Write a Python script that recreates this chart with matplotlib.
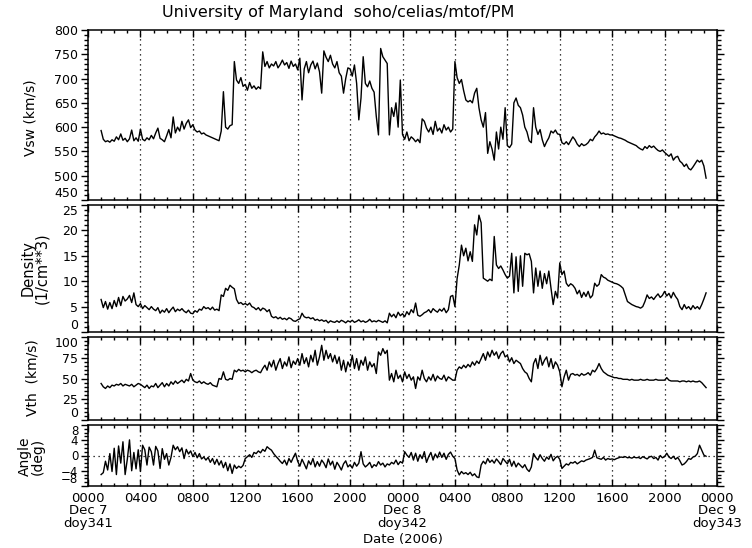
import matplotlib
matplotlib.use("Agg")
import matplotlib.pyplot as plt
import matplotlib.ticker as ticker
import numpy as np

# samples every 10 min, starting 01:00 on Dec 7 (hours since Dec 7 0000)
t_start = 1.0
step = 1.0 / 6.0

vsw = [
    593, 575, 570, 572, 569, 574,   # 01h
    571, 580, 574, 586, 573, 577,   # 02h
    570, 576, 594, 572, 578, 571,   # 03h
    596, 575, 572, 578, 574, 583,   # 04h
    576, 588, 598, 577, 574, 570,   # 05h
    582, 595, 578, 621, 588, 600,   # 06h
    592, 612, 596, 608, 615, 599,   # 07h
    605, 594, 590, 592, 586, 588,   # 08h
    584, 582, 580, 578, 576, 574,   # 09h
    572, 592, 673, 600, 596, 603,   # 10h
    605, 735, 697, 690, 702, 684,   # 11h
    688, 676, 692, 680, 685, 678,   # 12h
    683, 679, 755, 725, 735, 722,   # 13h
    730, 726, 735, 722, 729, 738,   # 14h
    728, 733, 721, 736, 725, 730,   # 15h
    718, 742, 656, 720, 735, 712,   # 16h
    728, 736, 720, 732, 714, 670,   # 17h
    757, 744, 735, 748, 730, 722,   # 18h
    735, 712, 705, 670, 700, 722,   # 19h
    720, 705, 728, 690, 615, 660,   # 20h
    745, 690, 683, 695, 680, 672,   # 21h
    622, 584, 762, 745, 738, 731,   # 22h
    584, 640, 622, 650, 600, 697,   # 23h
    585, 575, 590, 572, 580, 576,   # 24h
    570, 575, 568, 617, 612, 598,   # 25h
    590, 600, 585, 612, 592, 598,   # 26h
    588, 605, 594, 600, 590, 596,   # 27h
    735, 702, 690, 698, 675, 656,   # 28h
    652, 655, 650, 670, 680, 640,   # 29h
    615, 600, 630, 546, 570, 555,   # 30h
    532, 590, 555, 600, 575, 640,   # 31h
    562, 558, 565, 650, 660, 645,   # 32h
    640, 625, 600, 590, 572, 568,   # 33h
    640, 600, 585, 595, 574, 560,   # 34h
    570, 578, 592, 588, 594, 586,   # 35h
    585, 568, 565, 570, 564, 572,   # 36h
    580, 574, 565, 560, 566, 562,   # 37h
    564, 568, 575, 572, 580, 585,   # 38h
    592, 586, 588, 585, 586, 584,   # 39h
    584, 582, 580, 578, 577, 575,   # 40h
    573, 570, 568, 566, 564, 562,   # 41h
    558, 555, 553, 560, 556, 562,   # 42h
    558, 561, 556, 552, 550, 553,   # 43h
    548, 544, 540, 545, 532, 538,   # 44h
    540, 530, 526, 519, 524, 515,   # 45h
    512, 518, 525, 532, 528, 532,   # 46h
    520, 495,                       # 47h
]

density = [
    6.4, 4.8, 6.0, 4.5, 5.8, 4.6,
    6.2, 5.0, 6.8, 5.2, 7.0, 6.1,
    6.5, 7.2, 5.8, 7.7, 5.4, 5.0,
    5.6, 4.6, 5.2, 4.8, 4.4, 5.0,
    4.5, 4.2, 4.8, 3.7, 4.3, 3.9,
    4.6, 3.8, 4.4, 4.9, 4.0, 4.5,
    4.2, 4.6, 4.1, 3.8, 4.3, 3.7,
    3.6, 4.2, 3.9, 4.5, 4.3, 5.0,
    4.6, 4.8, 4.4, 4.9, 4.3, 4.5,
    4.2, 7.3, 7.0, 8.6, 8.2, 9.2,
    8.8, 8.5, 6.4, 5.6, 5.8, 5.4,
    5.6, 5.3, 5.7, 5.0, 4.8, 4.4,
    4.8, 4.2, 4.7, 4.5, 4.0, 4.4,
    3.1, 2.8, 3.0, 2.6, 2.9, 2.5,
    2.7, 2.4, 2.8, 2.6, 2.2, 2.1,
    2.4, 2.6, 3.7, 3.0, 2.8, 2.9,
    2.6, 2.8, 2.3, 2.5, 2.2, 2.4,
    2.1, 2.3, 1.8, 2.2, 2.0, 1.9,
    2.2, 1.9, 2.3, 2.1, 1.8, 2.2,
    2.0, 2.3, 1.9, 2.1, 2.4, 2.0,
    2.2, 1.9, 2.1, 2.5, 2.0, 2.2,
    2.0, 2.3, 2.1, 1.9, 2.2, 1.8,
    3.7, 3.0, 3.5, 2.8, 3.9, 3.2,
    3.6, 3.0, 4.0, 3.4, 4.4, 3.8,
    5.7, 3.3, 3.1, 3.4, 3.8, 4.0,
    4.4, 3.8, 4.6, 4.2, 3.9, 4.5,
    4.1, 4.7, 3.8, 4.4, 7.0, 7.2,
    5.0, 10.5, 13.2, 17.1, 15.0, 16.5,
    14.0, 15.8, 13.9, 21.1, 19.1, 23.0,
    21.5, 10.6, 10.3, 10.0, 10.4, 10.1,
    18.8, 13.2, 12.5, 13.0, 12.2, 11.3,
    10.6, 11.0, 15.5, 7.7, 14.8, 8.0,
    15.0, 9.0, 15.5, 15.2, 15.4, 13.9,
    7.7, 12.6, 9.0, 12.0, 8.6, 11.5,
    9.5, 12.0, 8.6, 5.4, 8.0, 6.7,
    13.6, 11.3, 12.0, 9.6, 9.0, 9.5,
    9.2, 8.6, 7.5, 8.2, 6.8, 7.8,
    7.0, 8.0, 6.7, 7.2, 9.6, 9.0,
    9.4, 11.3, 10.8, 10.6, 10.2, 10.0,
    9.8, 9.6, 9.5, 9.3, 9.0, 8.6,
    7.3, 6.0, 5.7, 5.4, 5.2, 5.0,
    4.9, 4.7, 5.0, 6.0, 7.3, 6.6,
    6.9, 6.4, 7.0, 7.5, 6.8, 7.2,
    8.0, 7.1, 7.6, 6.7, 7.8, 7.0,
    6.4, 5.0, 4.4, 5.4, 4.6, 5.0,
    4.4, 5.2, 4.6, 5.0, 4.5, 5.4,
    6.5, 7.7,
]

vth = [
    44, 40, 38, 41, 39, 42,
    41, 43, 42, 44, 41, 43,
    42, 41, 43, 40, 42, 44,
    43, 41, 39, 42, 38, 41,
    40, 44, 39, 42, 45, 40,
    44, 41, 46, 43, 47, 44,
    46, 48, 45, 49, 47, 56,
    48, 46, 45, 47, 44, 46,
    44, 43, 45, 42, 41, 40,
    50, 49, 58, 49, 48, 50,
    49, 60, 58, 61, 59, 60,
    58, 60, 59, 57, 59, 60,
    58, 57, 62, 66, 60, 70,
    64, 72, 60, 68, 74, 62,
    70, 65, 76, 63, 71, 67,
    74, 66, 80, 68, 75, 64,
    78, 70, 84, 66, 76, 90,
    72, 84, 74, 80, 70, 78,
    68, 76, 60, 72, 58, 70,
    64, 78, 62, 74, 60, 72,
    66, 76, 60, 70, 64, 68,
    56, 82, 78, 86, 80, 84,
    48, 56, 46, 60, 50, 54,
    46, 58, 50, 55, 48, 52,
    38, 52, 48, 60, 50, 46,
    52, 48, 55, 47, 53, 50,
    49, 54, 47, 52, 50, 48,
    48, 60, 64, 62, 66, 63,
    67, 64, 70, 66, 71, 68,
    74, 80, 72, 82, 76, 84,
    78, 82, 74, 80, 83, 76,
    78, 70, 75, 68, 72, 70,
    68, 62, 58, 56, 50, 46,
    68, 74, 62, 78, 66, 72,
    76, 64, 74, 62, 70, 66,
    58, 40, 52, 60, 48, 55,
    56, 54, 55, 53, 56, 54,
    55, 57, 54, 60, 58, 62,
    68, 62, 58, 56, 54, 53,
    52, 51, 51, 50, 50, 49,
    49, 49, 48, 49, 48, 48,
    48, 49, 48, 48, 49, 48,
    48, 48, 49, 48, 48, 48,
    48, 51, 48, 47, 47, 47,
    47, 46, 47, 47, 46, 47,
    46, 47, 46, 46, 47, 45,
    42, 39,
]

angle = [
    -5.0, -4.5, -1.5, -3.8, 0.5, -4.2,
    1.9, -5.0, 2.5, -2.0, 3.6, -5.0,
    -1.0, 4.1, -4.0, 0.8, -3.5, 1.5,
    -4.2, 2.7, 1.5, -2.5, 2.2, 1.0,
    -2.5, 2.4, 1.2, -3.4, 1.8, -1.0,
    0.5, -2.5, -0.5, 2.7, 1.5, 2.3,
    1.0, 2.0, -0.8, 1.6, 0.4, 1.2,
    -0.3, 0.8, -0.6, 0.5, -0.9, -0.4,
    -1.2, -0.5, -1.8, -0.8, -2.3, -1.0,
    -2.5, -1.4, -3.2, -1.8, -4.0, -2.2,
    -4.7, -2.5, -3.4, -2.8, -3.2, -2.6,
    -0.8, -0.3, 0.2, -0.5, 0.8, 0.5,
    1.2, 0.7, 1.6, 1.1, 2.3, 1.8,
    1.4, 0.5, -0.2, -0.8, -1.5, -2.1,
    -1.2, -2.5, -0.8, -1.8, -0.5, 0.6,
    -1.5, -2.8, -1.0, -2.2, -3.5, -1.4,
    -2.4, -0.8, -3.0, -1.6, -2.8, -1.2,
    -2.0, -3.2, -0.9, -2.5, -1.5, -3.6,
    -1.8, -2.7, -3.8, -2.2, -1.4, -3.0,
    -2.4, -3.3, -1.8, -2.8, -2.0, 1.0,
    -2.2, -3.0, -2.5, -1.8, -3.2, -2.4,
    -2.8, -1.6, -2.5, -2.0, -3.0, -2.2,
    -2.5, -1.8, -2.2, -1.2, -2.4, -1.6,
    -2.0, 1.0, 0.1, -0.5, 0.8, -1.2,
    0.6, -1.5, 0.2, -0.8, 1.0, -1.8,
    -0.3, 0.8, -1.2, 0.4, -0.6, 0.9,
    -0.5, 0.6, -1.0, 0.3, 0.9, -0.2,
    -0.8, -3.8, -5.1, -4.2, -4.8, -4.5,
    -5.0, -4.4, -5.3, -4.8, -5.6, -5.8,
    -2.5, -1.5, -2.2, -0.8, -1.8, -1.2,
    -2.0, -0.9, -1.6, -2.4, -0.8, -1.5,
    -2.2, -1.0, -2.8, -1.5, -3.0, -2.0,
    -2.6, -3.2, -2.4, -3.6, -4.2, -3.0,
    0.5, -0.5, -1.2, 0.2, -0.8, -1.5,
    -0.4, -1.0, 0.3, -1.4, -0.6, -0.2,
    -1.0, -3.4, -2.8, -2.2, -2.5, -1.8,
    -2.0, -1.6, -2.2, -1.8, -1.4, -1.6,
    -1.2, -1.0, -0.8, -0.5, 1.4, -0.6,
    -0.8, -1.0, -0.5, -1.2, -0.8, -1.0,
    -0.9, -1.1, -0.8, -0.6, -0.4, -0.5,
    -0.3, -0.6, -0.5, -0.7, -0.4, -0.6,
    -0.5, -0.8, -0.3, -0.6, -0.9, -0.4,
    -0.2, -0.8, -0.5, -1.2, 0.0, -0.6,
    -0.3, 0.6, -0.4, -0.8, -0.2, -1.0,
    -0.5, -1.4, -2.5, -2.2, -1.6, -0.8,
    -1.0, -0.4, -0.2, 0.5, 2.7, 1.4,
    0.1, -0.2,
]

xtick_hours = [0, 4, 8, 12, 16, 20, 24, 28, 32, 36, 40, 44, 48]
xtick_labels = ["0000\nDec 7\ndoy341", "0400", "0800", "1200", "1600", "2000",
                "0000\nDec 8\ndoy342", "0400", "0800", "1200", "1600", "2000",
                "0000\nDec 9\ndoy343"]

W, H = 752, 548
fig = plt.figure(figsize=(W / 100, H / 100), dpi=100)
plt.rcParams['font.family'] = 'DejaVu Sans'


def px_rect(top, bottom, left=88, right=717):
    return [left / W, 1 - bottom / H, (right - left) / W, (bottom - top) / H]


# panels: (data, ylim, major, minor, pixel top, pixel bottom)
panels = [
    (vsw, (450, 800), 50, 10, 30, 200),
    (density, (0, 25), 5, 1, 205, 332),
    (vth, (0, 100), 25, 5, 337, 420),
    (angle, (-8, 8), 4, 1, 425, 486),
]

axes = []
for data, ylim, major, minor, top, bottom in panels:
    ax = fig.add_axes(px_rect(top, bottom))
    t = t_start + np.arange(len(data)) * step
    ax.plot(t, data, color='black', lw=1.0)
    ax.set_xlim(0, 48)
    ax.set_ylim(*ylim)
    ax.set_yticks(np.arange(ylim[0], ylim[1] + major / 2, major))
    ax.yaxis.set_minor_locator(ticker.MultipleLocator(minor))
    ax.xaxis.set_major_locator(ticker.FixedLocator(xtick_hours))
    ax.xaxis.set_minor_locator(ticker.MultipleLocator(1))
    for xv in xtick_hours[1:-1]:
        ax.axvline(xv, color='black', lw=0.9, ls=(0, (1, 3)))
    ax.tick_params(axis='y', which='both', direction='out', left=True, right=True,
                   labelsize=9, pad=2, width=1)
    ax.tick_params(axis='y', which='major', length=5)
    ax.tick_params(axis='y', which='minor', length=3)
    ax.tick_params(axis='x', which='both', direction='in', top=True, bottom=True,
                   labelbottom=False, width=1)
    ax.tick_params(axis='x', which='major', length=5)
    ax.tick_params(axis='x', which='minor', length=2.5)
    for s in ax.spines.values():
        s.set_linewidth(1.1)
    axes.append(ax)

ax_ang = axes[3]
ax_ang.axhline(0, color='black', lw=0.9, ls=(0, (1, 3)))
ax_ang.set_xticks(xtick_hours)
ax_ang.set_xticklabels(xtick_labels, fontsize=9.5, linespacing=0.95)
ax_ang.tick_params(axis='x', labelbottom=True, pad=4)
ax_ang.tick_params(axis='y', labelsize=8.5)

fig.text(338 / W, 1 - 13 / H, "University of Maryland  soho/celias/mtof/PM",
         ha='center', va='center', fontsize=11.5)
fig.text(31 / W, 1 - 118 / H, "Vsw (km/s)", rotation=90, ha='center', va='center', fontsize=10)
fig.text(35 / W, 1 - 268 / H, "Density\n(1/cm**3)", rotation=90, ha='center', va='center',
         fontsize=10.5, linespacing=0.95)
fig.text(33 / W, 1 - 378 / H, "Vth  (km/s)", rotation=90, ha='center', va='center', fontsize=10)
fig.text(31 / W, 1 - 456 / H, "Angle\n(deg)", rotation=90, ha='center', va='center',
         fontsize=10, linespacing=0.9)
fig.text(403 / W, 1 - 540 / H, "Date (2006)", ha='center', va='center', fontsize=9.5)

# edge labels sit inside their own panel, as in the stacked IDL layout
fig.canvas.draw()
for i, ax in enumerate(axes):
    labels = ax.get_yticklabels()
    labels[0].set_va('bottom')
    if i > 0:
        labels[-1].set_va('top')

fig.savefig("out.png", dpi=100)
